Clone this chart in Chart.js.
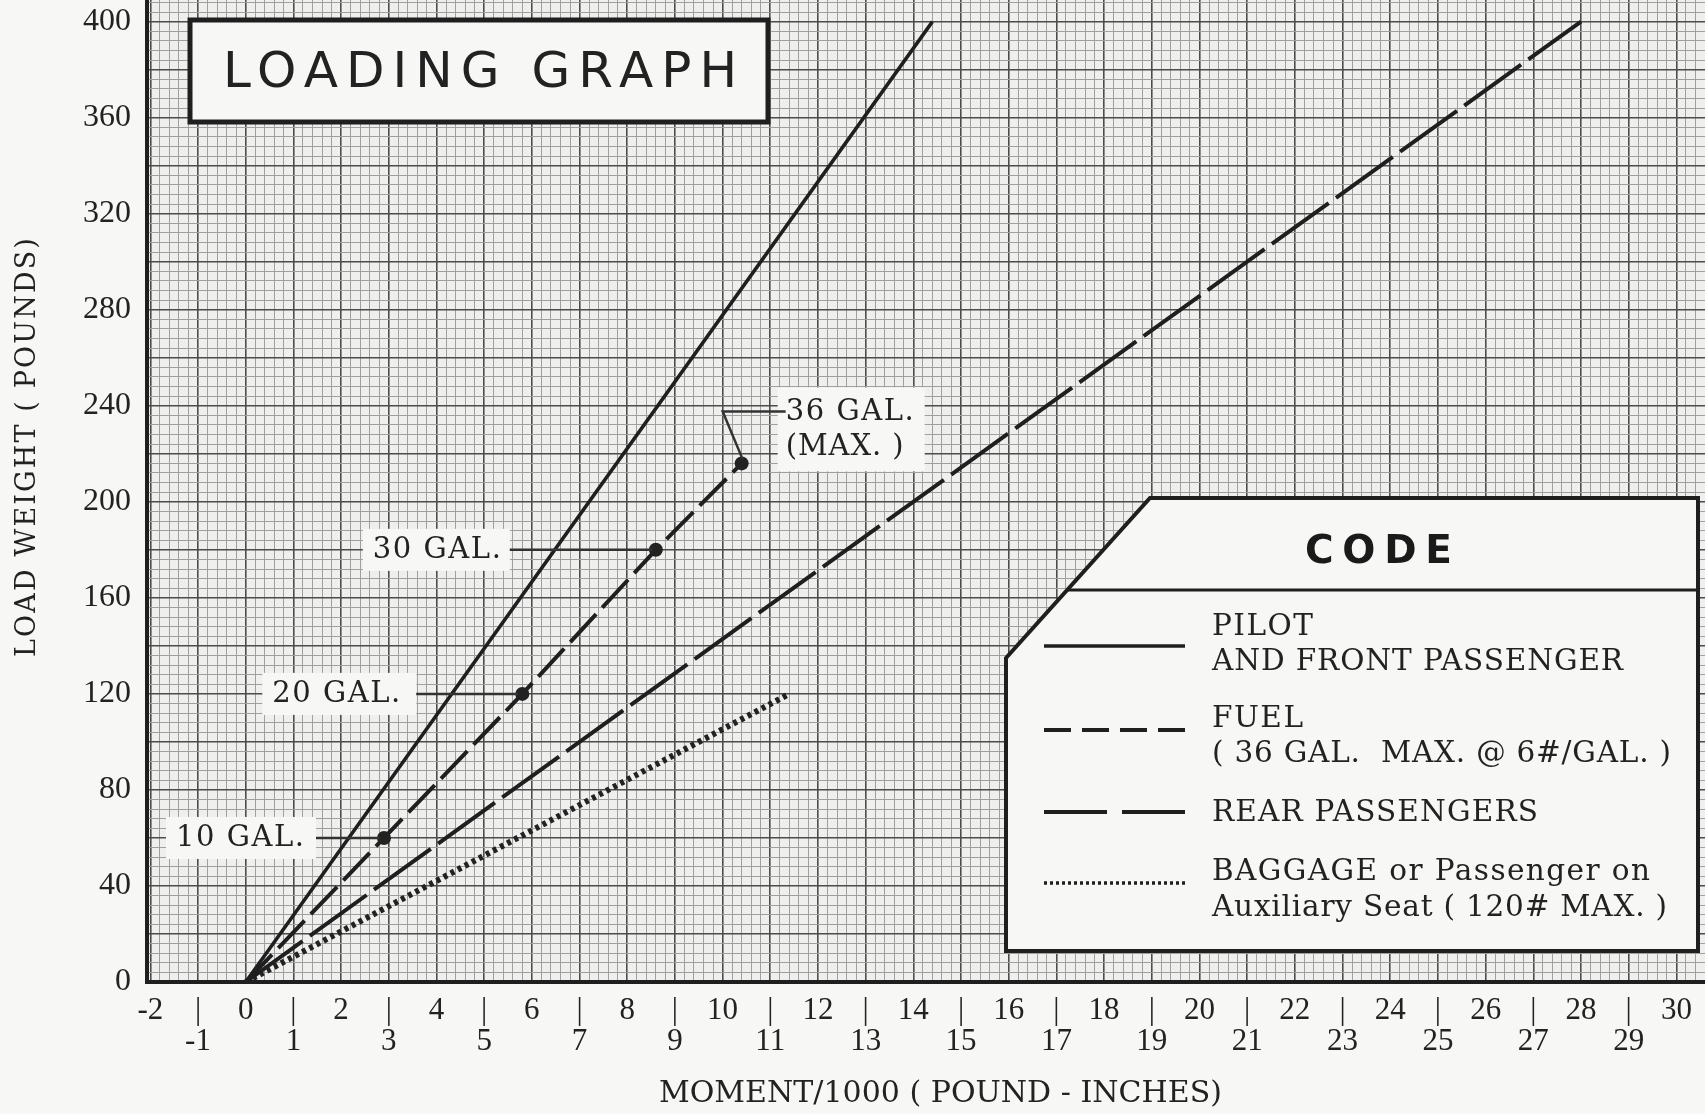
<!DOCTYPE html>
<html>
<head>
<meta charset="utf-8">
<script src="https://cdn.jsdelivr.net/npm/chart.js@4.4.1/dist/chart.umd.min.js"></script>
<style>
  html, body { margin: 0; padding: 0; background: #f7f7f5; }
  #wrap { width: 1705px; height: 1114px; position: relative; }
</style>
</head>
<body>
<div id="wrap"><canvas id="c" width="1705" height="1114"></canvas></div>
<script>
// ---------- data ----------
const xTickValues = [-2,-1,0,1,2,3,4,5,6,7,8,9,10,11,12,13,14,15,16,17,18,19,20,21,22,23,24,25,26,27,28,29,30];
const yTickValues = [0,40,80,120,160,200,240,280,320,360,400];

const pilotX   = [0, 14.4];
const pilotY   = [0, 400];
const fuelX    = [0, 2.9, 5.8, 8.6, 10.4];
const fuelY    = [0, 60, 120, 180, 216];
const fuelTags = ['', '10 GAL.', '20 GAL.', '30 GAL.', '36 GAL.'];
const rearX    = [0, 28.0];
const rearY    = [0, 400];
const baggageX = [0, 11.4];
const baggageY = [0, 120];

const legendItems = [
  ['PILOT', 'AND FRONT PASSENGER'],
  ['FUEL', '( 36 GAL.  MAX. @ 6#/GAL. )'],
  ['REAR PASSENGERS'],
  ['BAGGAGE or Passenger on', 'Auxiliary Seat ( 120# MAX. )']
];

// ---------- helpers ----------
const zip = (xs, ys) => xs.map((x, i) => ({ x: x, y: ys[i] }));
const isInt = v => Math.abs(v - Math.round(v)) < 1e-6;
const INK = '#1f1f1f';
const TXT = '#222222';
const SERIF = "'Liberation Serif', 'DejaVu Serif', serif";
const WIDE_SERIF = "'DejaVu Serif', 'Liberation Serif', serif";

function fitText(ctx, text, left, y, font, width) {
  ctx.font = font;
  ctx.letterSpacing = '0px';
  const n = [...text].length;
  const w = ctx.measureText(text).width;
  const ls = n > 1 ? (width - w) / (n - 1) : 0;
  ctx.letterSpacing = ls.toFixed(2) + 'px';
  ctx.textAlign = 'left';
  ctx.fillText(text, left, y);
  ctx.letterSpacing = '0px';
}

const paperPlugin = {
  id: 'paper',
  beforeDraw(chart) {
    const { ctx, chartArea: a } = chart;
    ctx.save();
    ctx.fillStyle = '#f7f7f5';
    ctx.fillRect(0, 0, chart.width, chart.height);
    ctx.fillStyle = '#efefed';
    ctx.fillRect(a.left, a.top, a.right - a.left, a.bottom - a.top);
    ctx.restore();
  },
  afterDatasetsDraw(chart) {
    const ctx = chart.ctx;
    ctx.save();
    ctx.textBaseline = 'middle';

    // ---- title box ----
    ctx.fillStyle = '#f7f7f5';
    ctx.fillRect(190, 20, 578, 102);
    ctx.lineWidth = 5;
    ctx.strokeStyle = INK;
    ctx.strokeRect(190, 20, 578, 102);
    ctx.fillStyle = '#222';
    fitText(ctx, 'LOADING GRAPH', 223, 74, "400 50px 'DejaVu Sans', sans-serif", 514);

    // ---- fuel gallon tags ----
    const meta = chart.getDatasetMeta(1);
    const tagGeom = { 1: [68, 150], 2: [106, 154], 3: [146, 147] };
    ctx.lineWidth = 2.5;
    ctx.strokeStyle = '#333';
    for (let i = 1; i <= 3; i++) {
      const p = meta.data[i];
      const [lead, bw] = tagGeom[i];
      const right = p.x - lead;
      ctx.fillStyle = '#f7f7f5';
      ctx.fillRect(right - bw, p.y - 21, bw, 42);
      ctx.beginPath();
      ctx.moveTo(right, p.y);
      ctx.lineTo(p.x - 4, p.y);
      ctx.stroke();
      ctx.fillStyle = TXT;
      fitText(ctx, fuelTags[i], right - bw + 10, p.y + 1, '29px ' + WIDE_SERIF, 128);
    }
    // 36 gal (max)
    {
      const p = meta.data[4];
      ctx.fillStyle = '#f7f7f5';
      ctx.fillRect(p.x + 36, p.y - 76, 147, 84);
      ctx.beginPath();
      ctx.moveTo(p.x + 44, p.y - 52);
      ctx.lineTo(p.x - 19, p.y - 52);
      ctx.lineTo(p.x + 1, p.y - 4);
      ctx.stroke();
      ctx.fillStyle = TXT;
      fitText(ctx, fuelTags[4], p.x + 44, p.y - 51, '29px ' + WIDE_SERIF, 128);
      fitText(ctx, '(MAX. )', p.x + 44, p.y - 16, '29px ' + WIDE_SERIF, 118);
    }

    // ---- CODE legend box ----
    ctx.beginPath();
    ctx.moveTo(1150, 498);
    ctx.lineTo(1698, 498);
    ctx.lineTo(1698, 951);
    ctx.lineTo(1006, 951);
    ctx.lineTo(1006, 658);
    ctx.closePath();
    ctx.fillStyle = '#f7f7f5';
    ctx.fill();
    ctx.lineWidth = 4;
    ctx.strokeStyle = INK;
    ctx.stroke();
    ctx.beginPath();
    ctx.moveTo(1067, 590);
    ctx.lineTo(1698, 590);
    ctx.lineWidth = 3;
    ctx.stroke();
    ctx.fillStyle = '#1a1a1a';
    fitText(ctx, 'CODE', 1305, 553, "bold 39px 'DejaVu Sans', sans-serif", 147);

    const sx0 = 1044, sx1 = 1185, tx = 1212;
    const rows = [
      { ly: 646, t: [627, 662], dash: [], w: 3.5 },
      { ly: 730, t: [719, 754], dash: [27, 11], w: 4 },
      { ly: 812, t: [813], dash: [63, 15], w: 4 },
      { ly: 883, t: [872, 908], dash: [3, 3], w: 3.5 }
    ];
    const widths = [[101, 411], [91, 459], [326], [438, 455]];
    rows.forEach((r, k) => {
      ctx.beginPath();
      ctx.setLineDash(r.dash);
      ctx.lineWidth = r.w;
      ctx.strokeStyle = INK;
      ctx.moveTo(sx0, r.ly);
      ctx.lineTo(sx1, r.ly);
      ctx.stroke();
      ctx.setLineDash([]);
      ctx.fillStyle = TXT;
      legendItems[k].forEach((line, j) => {
        fitText(ctx, line, tx, r.t[j], '29.5px ' + WIDE_SERIF, widths[k][j]);
      });
    });

    // ---- axis titles ----
    ctx.fillStyle = TXT;
    fitText(ctx, 'MOMENT/1000 ( POUND - INCHES)', 659, 1094, '30px ' + WIDE_SERIF, 563);
    ctx.save();
    ctx.translate(28, 448);
    ctx.rotate(-Math.PI / 2);
    fitText(ctx, 'LOAD WEIGHT ( POUNDS)', -209, 0, '27px ' + WIDE_SERIF, 419);
    ctx.restore();

    ctx.restore();
  }
};

new Chart(document.getElementById('c'), {
  type: 'scatter',
  data: {
    datasets: [
      { label: 'PILOT AND FRONT PASSENGER', data: zip(pilotX, pilotY), showLine: true,
        borderColor: INK, borderWidth: 3.5, pointRadius: 0, borderCapStyle: 'butt' },
      { label: 'FUEL', data: zip(fuelX, fuelY), showLine: true,
        borderColor: INK, borderWidth: 4, borderDash: [38, 9], borderCapStyle: 'butt',
        pointRadius: c => (c.dataIndex === 0 ? 0 : 7), pointBackgroundColor: '#222',
        pointBorderWidth: 0 },
      { label: 'REAR PASSENGERS', data: zip(rearX, rearY), showLine: true,
        borderColor: INK, borderWidth: 4, borderDash: [70, 9], pointRadius: 0, borderCapStyle: 'butt' },
      { label: 'BAGGAGE', data: zip(baggageX, baggageY), showLine: true,
        borderColor: '#222', borderWidth: 6, borderDash: [4, 4], pointRadius: 0, borderCapStyle: 'butt' }
    ]
  },
  options: {
    responsive: false,
    animation: false,
    devicePixelRatio: 1,
    layout: { padding: 0, autoPadding: false },
    plugins: { legend: { display: false }, tooltip: { enabled: false }, title: { display: false } },
    scales: {
      x: {
        type: 'linear', min: -2.07, max: 30.6,
        afterFit: s => { s.height = 132; s.paddingLeft = 0; s.paddingRight = 0; },
        border: { display: true, width: 4, color: INK },
        grid: {
          drawTicks: false,
          color: c => (isInt(c.tick.value) ? '#4c4c4c' : '#a0a0a0'),
          lineWidth: c => (isInt(c.tick.value) ? 1.6 : 1)
        },
        ticks: {
          stepSize: 0.2, includeBounds: false, autoSkip: false, maxRotation: 0, minRotation: 0,
          padding: 13, color: TXT,
          font: { family: SERIF, size: 31, lineHeight: 1.0 },
          callback: v => {
            if (!isInt(v)) return '';
            const r = Math.round(v);
            const i = xTickValues.indexOf(r);
            if (i < 0) return '';
            const lab = String(xTickValues[i]);
            return (r % 2 === 0) ? lab : ['|', lab];
          }
        }
      },
      y: {
        type: 'linear', min: 0, max: 409,
        afterFit: s => { s.width = 147; s.paddingTop = 0; s.paddingBottom = 0; },
        border: { display: true, width: 4, color: INK },
        grid: {
          drawTicks: false,
          color: c => (Math.round(c.tick.value) % 20 === 0 ? '#4c4c4c' : '#a0a0a0'),
          lineWidth: c => (Math.round(c.tick.value) % 20 === 0 ? 1.6 : 1)
        },
        ticks: {
          stepSize: 4, includeBounds: false, autoSkip: false, padding: 16, color: TXT,
          font: { family: SERIF, size: 32, lineHeight: 1.0 },
          callback: v => {
            const r = Math.round(v);
            const i = yTickValues.indexOf(r);
            return (isInt(v) && i >= 0) ? String(yTickValues[i]) : '';
          }
        }
      }
    }
  },
  plugins: [paperPlugin]
});
</script>
</body>
</html>
